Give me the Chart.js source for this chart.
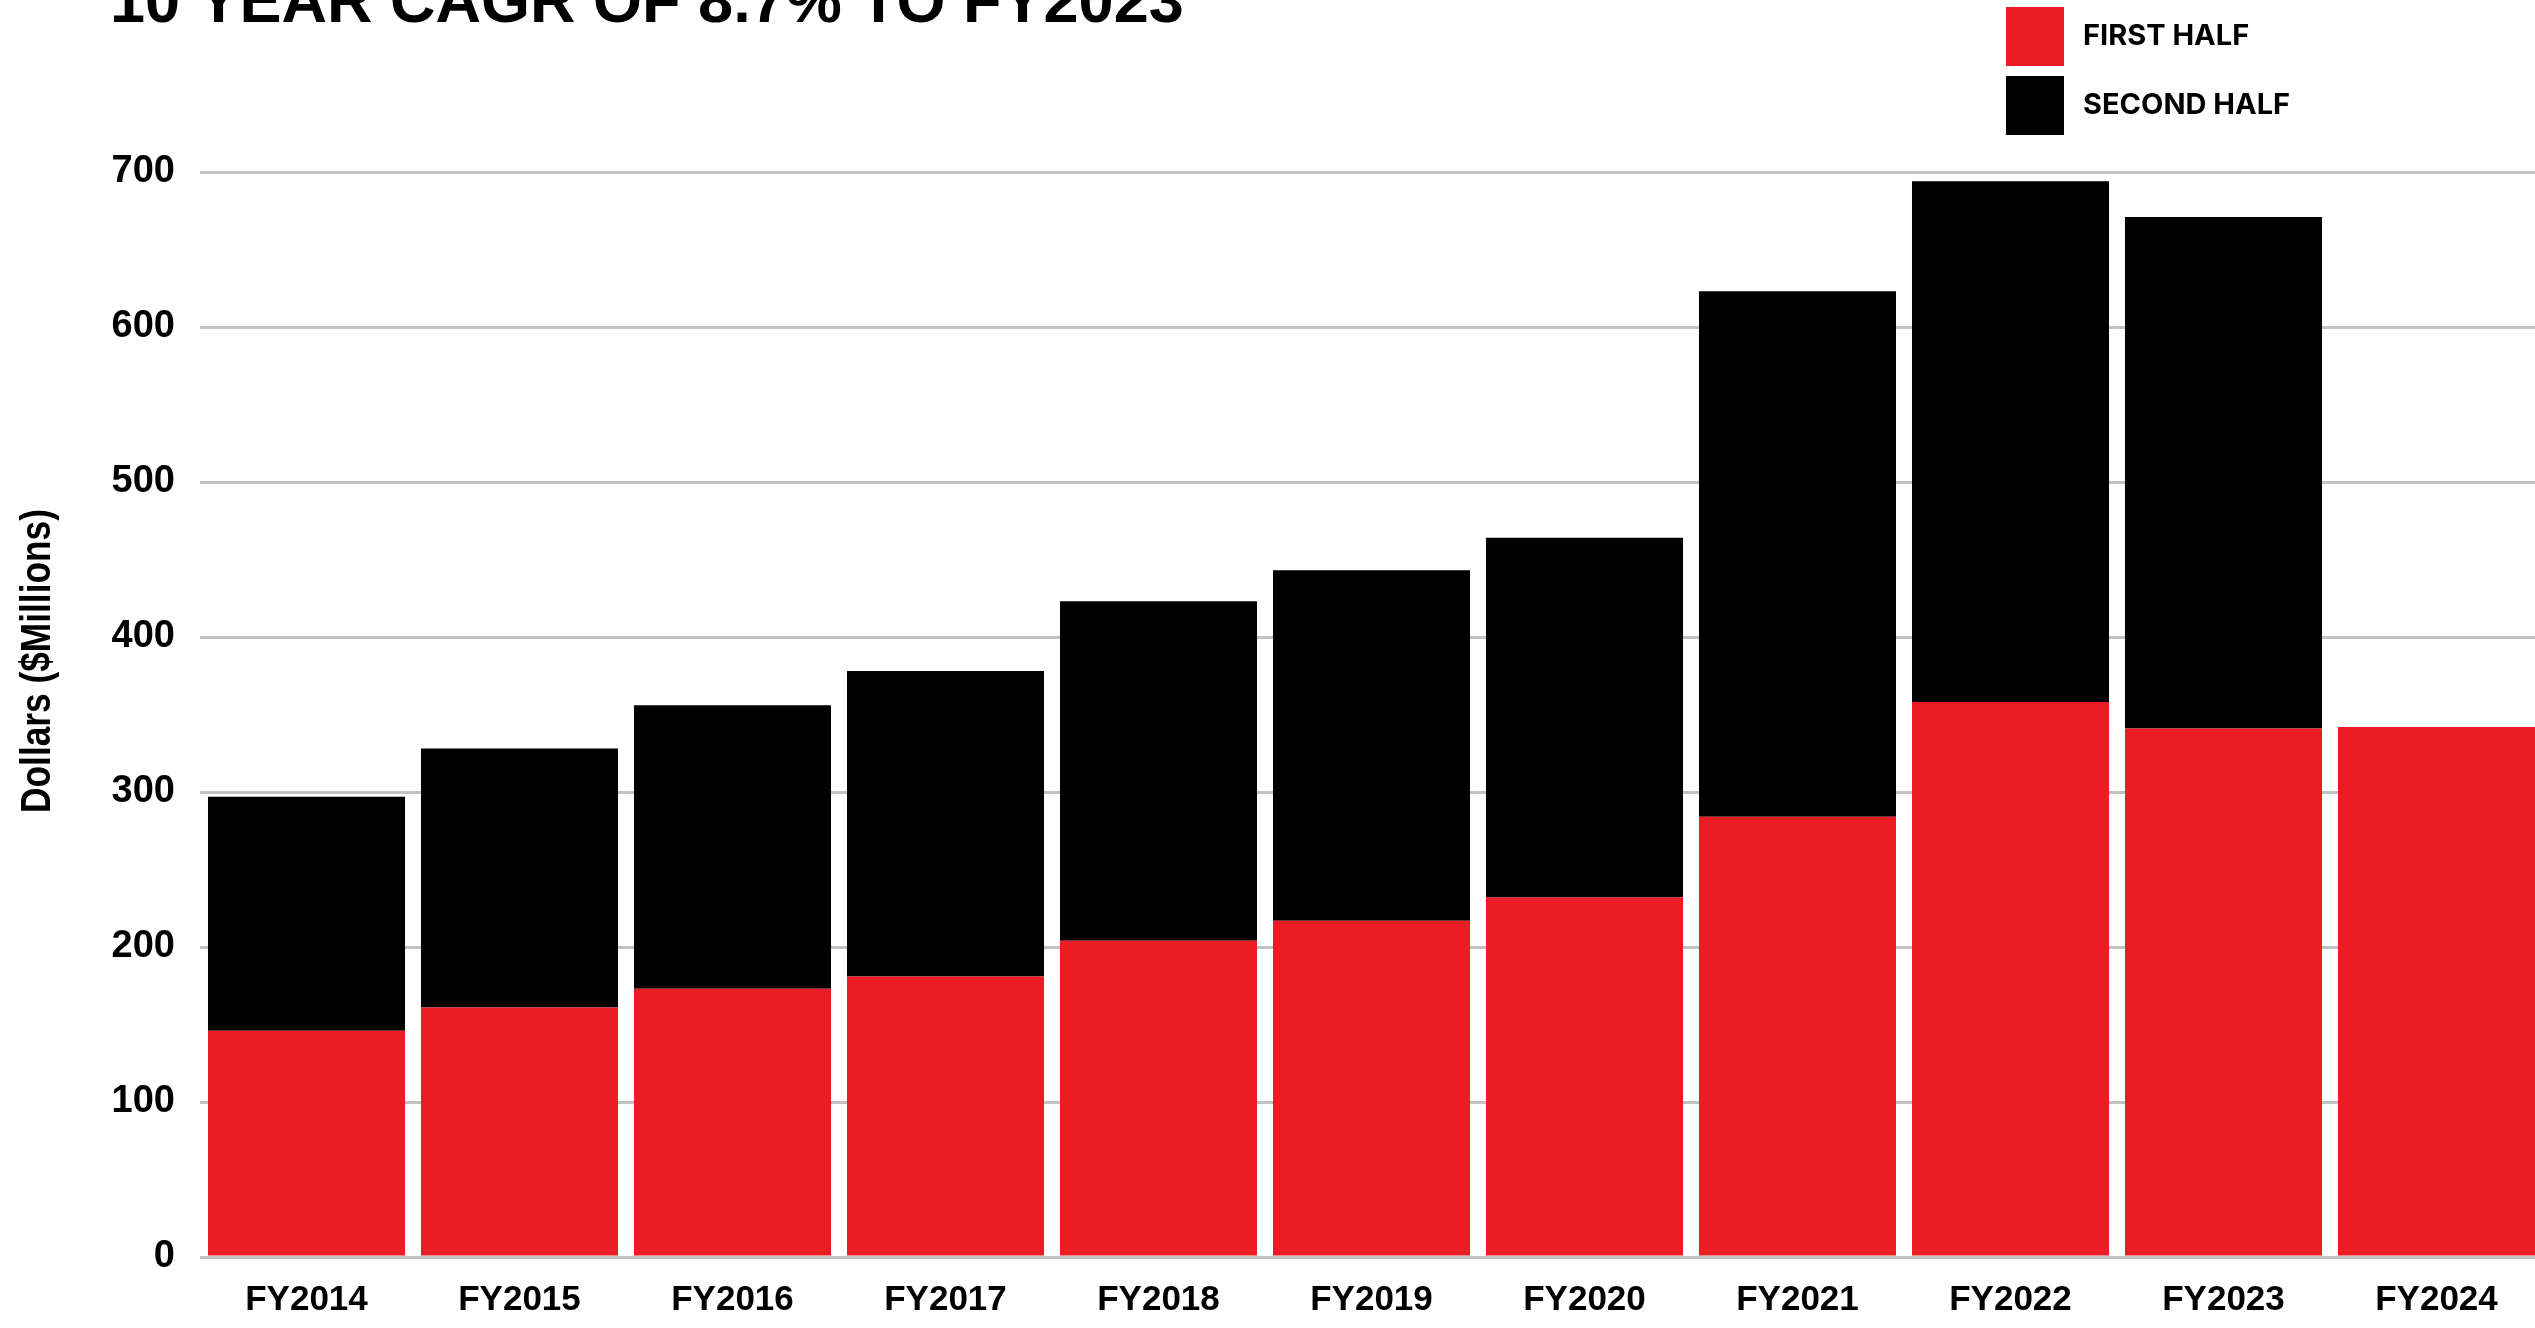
<!DOCTYPE html>
<html>
<head>
<meta charset="utf-8">
<title>10 Year CAGR</title>
<script src="https://cdn.jsdelivr.net/npm/chart.js@4.4.1/dist/chart.umd.min.js"></script>
<style>
    html, body {
        margin: 0;
        padding: 0;
        background: #ffffff;
        overflow: hidden;
    }
    #wrap {
        position: relative;
        width: 2560px;
        height: 1328px;
    }
</style>
</head>
<body>
<div id="wrap">
    <canvas id="halvesChart" width="2560" height="1328"></canvas>
</div>
<script>
// Chart data
const fiscalYears = ['FY2014', 'FY2015', 'FY2016', 'FY2017', 'FY2018', 'FY2019',
                     'FY2020', 'FY2021', 'FY2022', 'FY2023', 'FY2024'];
const firstHalf = [146, 161, 173, 181, 204, 217, 232, 284, 358, 341, 342];
const secondHalf = [151, 167, 183, 197, 219, 226, 232, 339, 336, 330, null];
const yTicks = [0, 100, 200, 300, 400, 500, 600, 700];

const chartTitle = '10 YEAR CAGR OF 8.7% TO FY2023';
const yAxisTitle = 'Dollars ($Millions)';
const seriesNames = ['FIRST HALF', 'SECOND HALF'];

const RED = '#ec1c24';
const BLACK = '#000000';

// Title, y axis title and legend drawn on top of the chart
const overlayPlugin = {
    id: 'overlay',
    afterDraw(chart) {
        const ctx = chart.ctx;
        ctx.save();
        ctx.fillStyle = '#000';

        // Title (cut off at the top like the source graphic)
        ctx.font = 'bold 63px "Liberation Sans", Arial, sans-serif';
        ctx.textAlign = 'left';
        ctx.textBaseline = 'alphabetic';
        ctx.fillText(chartTitle, 110, 22);

        // Y axis title - condensed look
        ctx.save();
        ctx.translate(38, 661);
        ctx.rotate(-Math.PI / 2);
        ctx.scale(0.84, 1);
        ctx.font = 'bold 42px "Liberation Sans", Arial, sans-serif';
        ctx.textAlign = 'center';
        ctx.textBaseline = 'middle';
        ctx.fillText(yAxisTitle, 0, 0);
        ctx.restore();

        // Legend
        chart.data.datasets.forEach((ds, i) => {
            const top = 7 + i * 69;
            ctx.fillStyle = ds.backgroundColor;
            ctx.fillRect(2006, top, 58, 59);
            ctx.fillStyle = '#000';
            ctx.font = 'bold 29px Inter, Roboto, sans-serif';
            ctx.textAlign = 'left';
            ctx.textBaseline = 'alphabetic';
            ctx.fillText(ds.label, 2083, top + 38);
        });

        ctx.restore();
    }
};

function drawChart() {
    const ctx = document.getElementById('halvesChart').getContext('2d');

    new Chart(ctx, {
        type: 'bar',
        data: {
            labels: fiscalYears,
            datasets: [{
                label: seriesNames[0],
                data: firstHalf,
                backgroundColor: RED,
                borderWidth: 0
            }, {
                label: seriesNames[1],
                data: secondHalf,
                backgroundColor: BLACK,
                borderWidth: 0
            }]
        },
        options: {
            responsive: false,
            animation: false,
            layout: {
                padding: { top: 172, right: 17, bottom: 0, left: 0 }
            },
            datasets: {
                bar: {
                    barPercentage: 0.925,
                    categoryPercentage: 1.0
                }
            },
            scales: {
                x: {
                    stacked: true,
                    grid: { display: false, drawTicks: false },
                    border: { display: false },
                    ticks: {
                        color: '#000',
                        padding: 22,
                        font: { family: '"Liberation Sans", Arial, sans-serif', size: 35, weight: 'bold' }
                    },
                    afterFit(scale) {
                        scale.height = 71;
                    }
                },
                y: {
                    stacked: true,
                    min: 0,
                    max: 700,
                    afterBuildTicks(scale) {
                        scale.ticks = yTicks.map(v => ({ value: v }));
                    },
                    grid: {
                        color: '#c2c2c2',
                        lineWidth: 3,
                        drawTicks: false
                    },
                    border: { display: false },
                    ticks: {
                        color: '#000',
                        padding: 25,
                        font: { family: '"Liberation Sans", Arial, sans-serif', size: 38, weight: 'bold' }
                    },
                    afterFit(scale) {
                        scale.width = 200;
                    }
                }
            },
            plugins: {
                legend: { display: false },
                tooltip: { enabled: false },
                title: { display: false }
            }
        },
        plugins: [overlayPlugin]
    });
}

drawChart();
</script>
</body>
</html>
